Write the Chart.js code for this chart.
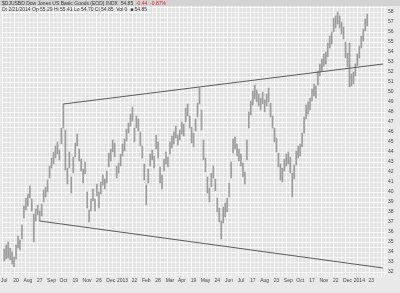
<!DOCTYPE html>
<html lang="en">
<head>
<meta charset="UTF-8">
<title>$DJUSBD chart</title>
<script src="https://cdn.jsdelivr.net/npm/chart.js"></script>
<style>
    body { margin: 0; background: #e9e9e9; font-family: "Liberation Sans", Arial, sans-serif; }
    #wrap { position: relative; width: 400px; height: 293px; }
    #band { position: absolute; left: 0; top: 0; width: 400px; height: 6px; background: #d3d3d3; }
    canvas { position: absolute; left: 0; top: 0; }
    .hdr { position: absolute; left: 2px; font-size: 5px; line-height: 5px; color: #333; white-space: nowrap; }
    .hdr .neg { color: #d22; }
</style>
</head>
<body>
<div id="wrap">
    <div id="band"></div>
    <canvas id="myChart" width="400" height="293"></canvas>
    <div class="hdr" style="top:1px">$DJUSBD Dow Jones US Basic Goods (EOD) INDX &nbsp;54.85 &nbsp;<span class="neg">-0.44 &nbsp;-0.87%</span></div>
    <div class="hdr" style="top:7px">Dt 2/21/2014 Op 55.29 Hi 55.41 Lo 54.70 Cl 54.85 &nbsp;Vol 0 &nbsp;&#9632; 54.85</div>
</div>
<script>
    // one bar per two sessions, Jul 2012 -> Feb 2014
    const highs = [34.3,34.7,35.0,34.4,34.0,33.5,34.7,35.6,35.2,36.7,
        38.6,39.4,39.8,40.6,39.3,37.8,38.3,38.7,38.1,38.8,
        40.2,40.5,41.2,42.6,43.4,44.0,44.6,45.0,44.2,46.4,
        48.8,46.2,42.4,44.0,41.5,43.5,44.9,45.8,44.3,43.3,
        42.3,43.0,40.0,38.2,39.3,40.3,39.3,40.8,40.0,41.0,
        41.7,41.3,42.1,43.9,44.3,45.2,44.9,42.6,42.9,43.8,
        44.8,45.3,46.3,46.9,47.8,48.5,46.4,47.6,47.3,46.0,
        44.6,42.8,40.7,42.3,43.8,44.2,43.6,45.7,45.0,42.5,
        41.7,43.3,44.0,43.5,45.0,45.6,46.0,46.6,45.7,46.2,
        47.0,46.8,48.4,48.8,47.6,46.5,45.9,47.3,48.9,50.4,
        48.2,45.2,43.4,41.5,40.4,41.9,42.6,41.3,39.4,38.4,
        37.1,38.5,38.9,39.4,40.9,43.0,45.3,45.5,44.8,44.3,
        43.8,42.9,42.0,45.2,48.0,49.1,50.1,50.7,50.2,49.8,
        49.4,50.0,49.2,49.8,50.4,48.9,47.6,46.4,45.4,43.9,
        42.8,42.4,43.3,43.8,44.0,43.5,41.9,42.7,44.1,44.6,
        44.8,45.9,47.5,48.7,49.0,49.4,50.3,50.8,50.6,52.1,
        52.8,53.3,53.8,54.0,54.9,55.6,56.0,57.4,57.6,58.0,
        57.6,57.0,56.5,55.0,53.9,54.9,51.8,52.0,52.8,53.8,
        54.6,55.6,56.3,57.3,57.8];
    const lows = [33.1,33.3,33.4,33.2,32.8,32.5,33.3,34.4,34.2,35.3,
        37.4,38.2,38.6,39.4,38.1,35.0,37.1,37.7,37.1,37.6,
        39.0,39.5,40.0,41.4,42.4,42.8,43.4,43.8,43.2,44.8,
        46.4,42.2,40.8,42.4,39.9,41.9,43.5,44.6,43.1,42.1,
        40.9,41.8,38.4,37.0,38.1,39.1,38.1,39.6,38.4,39.8,
        40.7,40.3,40.9,42.5,43.1,44.0,43.5,41.4,41.9,42.6,
        43.6,44.1,45.1,45.9,46.6,47.1,45.0,46.4,46.1,44.6,
        43.4,41.2,38.7,40.9,42.6,43.2,42.4,44.3,43.4,40.9,
        40.3,42.1,42.8,42.5,43.8,44.4,44.8,45.4,44.7,45.2,
        45.8,45.6,47.0,47.6,46.4,44.9,44.5,46.1,47.5,48.8,
        46.2,43.2,42.0,39.9,39.0,40.5,41.4,40.1,38.0,37.0,
        35.3,36.9,37.5,38.0,39.5,41.4,43.9,44.3,43.6,43.1,
        42.6,41.5,40.8,43.2,46.4,47.7,48.7,49.3,49.0,48.6,
        48.2,48.8,48.0,48.6,49.0,47.5,46.4,45.0,44.0,42.5,
        41.2,41.0,42.1,42.6,42.8,41.9,39.5,41.3,42.7,43.4,
        43.6,44.5,45.9,47.3,47.8,48.2,49.1,49.6,49.4,50.7,
        51.6,52.1,52.6,52.8,53.5,54.4,54.8,56.0,56.4,56.8,
        56.4,55.8,55.3,53.4,52.5,50.5,50.6,50.8,51.6,52.6,
        53.4,54.4,55.1,56.1,56.6];

    // trendlines: [bar index, price]
    const upperTrend = [[30, 48.8], [192, 52.8]];
    const lowerTrend = [[18, 37.1], [192, 32.4]];

    // bottom labels, one every 6 bars
    const xLabels = ['Jul','20','Aug','27','Sep','Oct','19','Nov','26','Dec','2013','22',
        'Feb','28','Mar','Apr','19','May','24','Jun','Jul','17','Aug','23',
        'Sep','Oct','17','Nov','22','Dec','2014','23'];

    const yMin = 31.8, yMax = 58.6;

    const plotBg = {
        id: 'plotBg',
        beforeDraw(chart) {
            const { ctx, chartArea: a } = chart;
            ctx.save();
            ctx.fillStyle = '#e2e2e2';
            ctx.fillRect(a.left, a.top, a.right - a.left, a.bottom - a.top);
            ctx.restore();
        }
    };

    const tinyFont = { family: 'Liberation Sans', size: 5 };

    new Chart(document.getElementById('myChart'), {
        type: 'bar',
        data: {
            datasets: [{
                type: 'line',
                data: upperTrend.map(p => ({ x: p[0], y: p[1] })),
                borderColor: '#5a5a5a',
                borderWidth: 1,
                pointRadius: 0
            }, {
                type: 'line',
                data: lowerTrend.map(p => ({ x: p[0], y: p[1] })),
                borderColor: '#5a5a5a',
                borderWidth: 1,
                pointRadius: 0
            }, {
                data: highs.map((h, i) => ({ x: i, y: [lows[i], h] })),
                backgroundColor: '#9c9c9c',
                barThickness: 1
            }]
        },
        options: {
            responsive: false,
            animation: false,
            devicePixelRatio: 1,
            layout: { padding: { top: 6, left: 0, right: 0, bottom: 0 } },
            plugins: { legend: { display: false }, tooltip: { enabled: false } },
            scales: {
                x: {
                    type: 'linear',
                    min: -0.5,
                    max: 192,
                    afterBuildTicks: s => { s.ticks = Array.from({ length: 97 }, (_, k) => ({ value: k * 2 })); },
                    afterFit: s => { s.height = 19; },
                    border: { display: false },
                    grid: {
                        color: c => c.tick && c.tick.value % 6 === 0 ? '#ffffff' : 'rgba(255,255,255,0.55)',
                        tickLength: 3
                    },
                    ticks: {
                        autoSkip: false,
                        maxRotation: 0,
                        padding: 1,
                        color: '#444',
                        font: tinyFont,
                        callback: v => v % 6 === 0 ? (xLabels[v / 6] || '') : ''
                    }
                },
                y: {
                    position: 'right',
                    min: yMin,
                    max: yMax,
                    afterBuildTicks: s => { s.ticks = Array.from({ length: 54 }, (_, k) => ({ value: 32 + k * 0.5 })); },
                    afterFit: s => { s.width = 15; },
                    border: { display: false },
                    grid: { color: 'rgba(255,255,255,0.8)', tickLength: 2 },
                    ticks: {
                        autoSkip: false,
                        padding: 1,
                        color: '#444',
                        font: tinyFont,
                        callback: v => Number.isInteger(v) ? String(v) : ''
                    }
                }
            }
        },
        plugins: [plotBg]
    });
</script>
</body>
</html>
